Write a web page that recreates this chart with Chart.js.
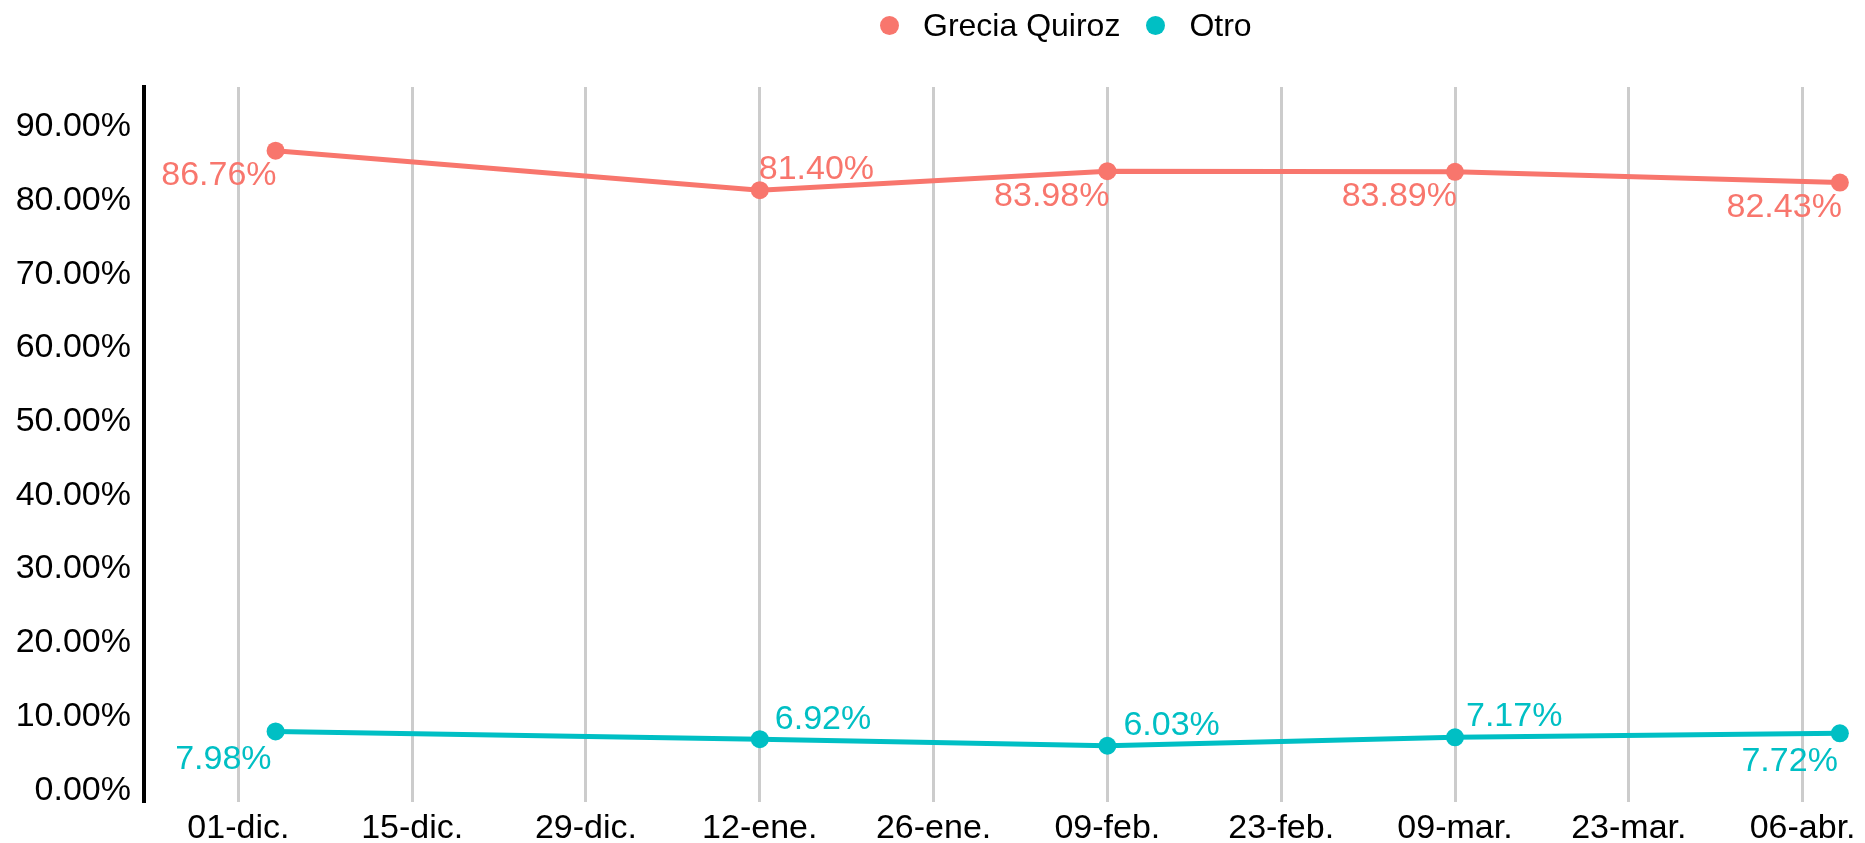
<!DOCTYPE html>
<html lang="es">
<head>
<meta charset="utf-8">
<title>Grecia Quiroz vs Otro</title>
<script src="https://cdn.jsdelivr.net/npm/chart.js@4.4.1/dist/chart.umd.min.js"></script>
<style>
  html, body { margin: 0; padding: 0; background: #fff; }
  .wrap { position: relative; width: 1865px; height: 843px; }
  #legend {
    position: absolute; top: 0; left: 0; right: 0; height: 50px;
    display: flex; justify-content: flex-start; align-items: center;
    padding-left: 880px; box-sizing: border-box;
    font-family: "Liberation Sans", Arial, sans-serif; font-size: 32px; color: #000;
  }
  .legend-item { display: flex; align-items: center; }
  .legend-item + .legend-item { margin-left: 26px; }
  .legend-dot { width: 19px; height: 19px; border-radius: 50%; margin-right: 24px; }
</style>
</head>
<body>
<div class="wrap">
  <div id="legend"></div>
  <canvas id="pollChart"></canvas>
</div>
<script>
const seriesNames = ["Grecia Quiroz", "Otro"];
const seriesColors = ["#F8766D", "#00BFC4"];
// days counted from 01-dic.
const pollDays = [3, 42, 70, 98, 129];
const greciaValues = [86.76, 81.4, 83.98, 83.89, 82.43];
const otroValues = [7.98, 6.92, 6.03, 7.17, 7.72];
const xTickDays = [0, 14, 28, 42, 56, 70, 84, 98, 112, 126];
const xTickLabels = ["01-dic.", "15-dic.", "29-dic.", "12-ene.", "26-ene.", "09-feb.", "23-feb.", "09-mar.", "23-mar.", "06-abr."];
const yTicks = [0, 10, 20, 30, 40, 50, 60, 70, 80, 90];
// value label placement per point: [align, dx, dy] relative to the point
const labelPlacement = [
  [["right", 1, 25], ["left", -1, -21], ["right", 2, 25], ["right", 2, 25], ["right", 2, 25]],
  [["right", -4, 28], ["left", 15, -20], ["left", 16, -20], ["left", 11, -21], ["right", -2, 28]],
];

const FONT = "'Liberation Sans', Arial, sans-serif";
Chart.defaults.font.family = FONT;
Chart.defaults.color = "#000";

// ─── HTML LEGEND
document.getElementById("legend").innerHTML = seriesNames
  .map(
    (n, i) => `<div class="legend-item"><span class="legend-dot" style="background:${seriesColors[i]}"></span>${n}</div>`,
  )
  .join("");

// ─── VALUE LABELS
const pointLabels = {
  id: "pointLabels",
  afterDatasetsDraw(chart) {
    const { ctx } = chart;
    ctx.save();
    ctx.font = "34px " + FONT;
    ctx.textBaseline = "middle";
    chart.data.datasets.forEach((ds, i) => {
      chart.getDatasetMeta(i).data.forEach((pt, j) => {
        const [align, dx, dy] = labelPlacement[i][j];
        ctx.fillStyle = ds.borderColor;
        ctx.textAlign = align;
        ctx.fillText(ds.data[j].y.toFixed(2) + "%", pt.x + dx, pt.y + dy);
      });
    });
    ctx.restore();
  },
};

const series = [greciaValues, otroValues];

new Chart(document.getElementById("pollChart").getContext("2d"), {
  type: "line",
  data: {
    datasets: series.map((vals, i) => ({
      label: seriesNames[i],
      data: pollDays.map((d, j) => ({ x: d, y: vals[j] })),
      borderColor: seriesColors[i],
      backgroundColor: seriesColors[i],
      borderWidth: 5,
      pointRadius: 9,
      pointHoverRadius: 9,
      pointBorderWidth: 0,
      tension: 0,
      clip: false,
    })),
  },
  options: {
    responsive: true,
    maintainAspectRatio: false,
    animation: false,
    layout: { padding: { top: 87, right: 7, left: 0, bottom: 0 } },
    plugins: {
      legend: { display: false },
      tooltip: { enabled: false },
    },
    scales: {
      x: {
        type: "linear",
        min: -7.6,
        max: 130.3,
        afterBuildTicks: (s) => {
          s.ticks = xTickDays.map((v) => ({ value: v }));
        },
        afterFit: (s) => {
          s.height = 41;
        },
        grid: { color: "#CCCCCC", lineWidth: 3, drawTicks: false },
        border: { display: false },
        ticks: {
          callback: (v, i) => xTickLabels[i],
          font: { size: 34 },
          color: "#000",
          padding: 6,
          maxRotation: 0,
          autoSkip: false,
        },
      },
      y: {
        min: -1.6,
        max: 95.4,
        afterBuildTicks: (s) => {
          s.ticks = yTicks.map((v) => ({ value: v }));
        },
        afterFit: (s) => {
          s.width = 144;
        },
        grid: { display: false, drawTicks: false },
        border: { display: true, color: "#000", width: 4 },
        ticks: {
          callback: (v) => v.toFixed(2) + "%",
          font: { size: 34 },
          color: "#000",
          padding: 13,
        },
      },
    },
  },
  plugins: [pointLabels],
});
</script>
</body>
</html>
